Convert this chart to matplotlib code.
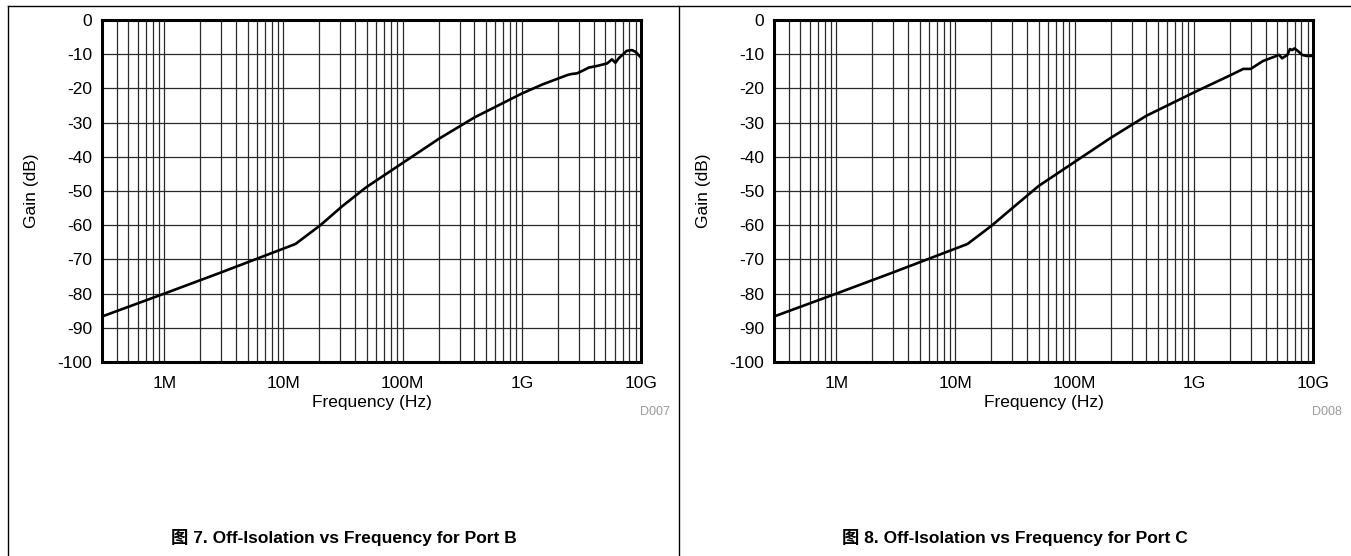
import matplotlib
matplotlib.use("Agg")
import matplotlib.pyplot as plt
from matplotlib.lines import Line2D
from matplotlib.ticker import LogLocator, NullFormatter

# Off-isolation, Port B (Hz, dB)
freq_b = [3e5, 1e6, 3e6, 1.26e7, 2.04e7, 3.1e7, 4.9e7, 1e8, 2e8, 4e8,
          1e9, 1.5e9, 2.41e9, 2.6e9, 2.9e9, 3.12e9, 3.66e9, 4.2e9, 5.2e9,
          5.7e9, 6.1e9, 6.5e9, 7.6e9, 8.4e9, 9.0e9, 1e10]
gain_b = [-86.7, -80.0, -73.8, -65.5, -60.0, -54.5, -49.0, -41.8, -34.8, -28.5,
          -21.5, -18.8, -16.1, -15.8, -15.6, -15.1, -13.9, -13.5, -12.7,
          -11.5, -12.5, -11.2, -9.0, -8.8, -9.3, -11.0]

# Off-isolation, Port C (Hz, dB)
freq_c = [3e5, 1e6, 3e6, 1.26e7, 2e7, 3e7, 5e7, 1e8, 2e8, 4e8,
          1e9, 2.04e9, 2.6e9, 3.0e9, 3.8e9, 5.2e9, 5.5e9, 6.1e9, 6.4e9,
          6.7e9, 7.0e9, 7.6e9, 8.1e9, 8.8e9, 1e10]
gain_c = [-86.7, -80.0, -73.8, -65.5, -60.2, -55.0, -48.5, -41.5, -34.5, -28.0,
          -21.2, -16.1, -14.3, -14.3, -12.0, -10.2, -11.2, -10.2, -8.5,
          -8.8, -8.3, -9.3, -10.2, -10.5, -10.5]

x_ticks = [1e6, 1e7, 1e8, 1e9, 1e10]
x_ticklabels = ["1M", "10M", "100M", "1G", "10G"]
y_ticks = list(range(-100, 1, 10))

panels = [
    (freq_b, gain_b, "D007", "图 7. Off-Isolation vs Frequency for Port B"),
    (freq_c, gain_c, "D008", "图 8. Off-Isolation vs Frequency for Port C"),
]

plt.rcParams["font.family"] = ["Liberation Sans", "Noto Sans CJK SC"]
plt.rcParams["axes.unicode_minus"] = False

W, H = 1351, 556
fig = plt.figure(figsize=(W / 100, H / 100), dpi=100)

# axes boxes in pixels: left, right, top, bottom
boxes = [(102, 641, 20, 362), (774, 1313, 20, 362)]
panel_centers = [343.5, 1015]

for (freq, gain, code, caption), (l, r, t, b), cx in zip(panels, boxes, panel_centers):
    ax = fig.add_axes([l / W, 1 - b / H, (r - l) / W, (b - t) / H])
    ax.plot(freq, gain, color="black", lw=1.9, zorder=3)
    ax.set_xscale("log")
    ax.set_xlim(3e5, 1e10)
    ax.set_ylim(-100, 0)
    ax.set_xticks(x_ticks)
    ax.set_xticklabels(x_ticklabels)
    ax.xaxis.set_minor_locator(LogLocator(base=10, subs=range(2, 10)))
    ax.xaxis.set_minor_formatter(NullFormatter())
    ax.set_yticks(y_ticks)
    ax.grid(True, which="both", axis="x", color="#2a2a2a", lw=0.9)
    ax.grid(True, which="major", axis="y", color="#2a2a2a", lw=0.9)
    ax.tick_params(which="both", length=0, labelsize=12.5)
    ax.tick_params(axis="x", pad=10)
    ax.tick_params(axis="y", pad=7)
    for s in ax.spines.values():
        s.set_linewidth(2.2)
    ax.set_xlabel("Frequency (Hz)", fontsize=12.5, labelpad=3)
    ax.set_ylabel("Gain (dB)", fontsize=12.5, labelpad=13)

    fig.text((r + 29) / W, 1 - 412 / H, code, ha="right", va="center",
             fontsize=9, color="#9a9a9a")
    fig.text(cx / W, 1 - 537 / H, caption, ha="center", va="center",
             fontsize=12.5, fontweight="bold")

# frame lines around the two figure panels
frame = dict(color="black", lw=1.0, transform=None)
fig.add_artist(Line2D([8, W], [H - 6, H - 6], **frame))
fig.add_artist(Line2D([8, 8], [0, H - 6], **frame))
fig.add_artist(Line2D([679, 679], [0, H - 6], **frame))

fig.savefig("out.png", dpi=100)
